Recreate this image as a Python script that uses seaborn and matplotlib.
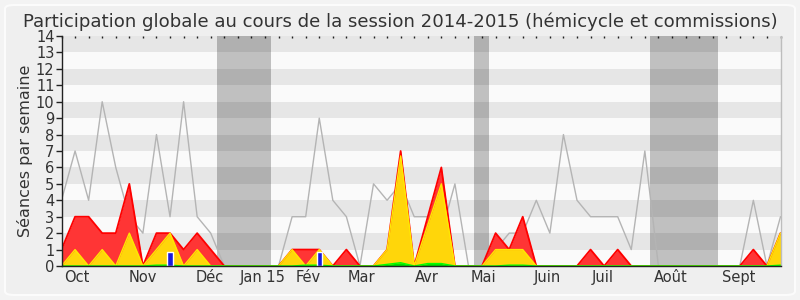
import numpy as np
import pandas as pd
import matplotlib
matplotlib.use("Agg")
import matplotlib.pyplot as plt
import seaborn as sns
from matplotlib.patches import FancyBboxPatch

# ---- data (weekly values, week index 0 = end of Sept 2014) ----
weeks = list(range(54))
presence_mediane = [4, 7, 4, 10, 6, 3, 2, 8, 3, 10, 3, 2, 0, 0, 0, 0, 0, 3, 3, 9,
                    4, 3, 0, 5, 4, 5, 3, 3, 2, 5, 0, 0, 1, 2, 2, 4, 2, 8, 4, 3,
                    3, 3, 1, 7, 0, 0, 0, 0, 0, 0, 0, 4, 0, 3]
presences = [1, 3, 3, 2, 2, 5, 0, 2, 2, 1, 2, 1, 0, 0, 0, 0, 0, 1, 1, 1,
             0, 1, 0, 0, 1, 7, 0, 3, 6, 0, 0, 0, 2, 1, 3, 0, 0, 0, 0, 1,
             0, 1, 0, 0, 0, 0, 0, 0, 0, 0, 0, 1, 0, 2]
hemicycle = [0, 1, 0, 1, 0, 2, 0, 1, 2, 0, 1, 0, 0, 0, 0, 0, 0, 1, 0, 1,
             0, 0, 0, 0, 1, 6.7, 0, 2.5, 5, 0, 0, 0, 1, 1, 1, 0, 0, 0, 0, 0,
             0, 0, 0, 0, 0, 0, 0, 0, 0, 0, 0, 0, 0, 2]
interventions = [0, 0, 0, 0, 0, 0, 0, 0.05, 0.05, 0, 0, 0, 0, 0, 0, 0, 0, 0, 0.05, 0.05,
                 0, 0, 0, 0, 0.1, 0.2, 0, 0.15, 0.15, 0, 0, 0, 0, 0.05, 0.05, 0, 0, 0, 0, 0,
                 0, 0, 0, 0, 0, 0, 0, 0, 0, 0, 0, 0, 0, 0.05]
question_weeks = [8, 19]
question_values = [0.88, 0.88]
vacances = [(11.45, 15.45), (30.4, 31.5), (43.4, 48.4)]
month_labels = ["Oct", "Nov", "Déc", "Jan 15", "Fév", "Mar", "Avr", "Mai", "Juin", "Juil", "Août", "Sept"]
month_pos = [1.1, 6.02, 10.9, 14.8, 18.2, 22.1, 26.9, 31.1, 35.8, 39.9, 44.9, 49.9]

df = pd.DataFrame({"semaine": weeks, "mediane": presence_mediane,
                   "presences": presences, "hemicycle": hemicycle,
                   "interventions": interventions})

sns.set_style("white")
plt.rcParams['font.family'] = ['DejaVu Sans']

fig = plt.figure(figsize=(8, 3), dpi=100, facecolor="#f3f3f3")
fig.patches.append(FancyBboxPatch((5 / 800, 5 / 300), 790 / 800, 290 / 300,
                                  boxstyle="round,pad=0,rounding_size=0.012",
                                  transform=fig.transFigure, facecolor="#efefef",
                                  edgecolor="#fbfbfb", linewidth=1.5, zorder=-10))
ax = fig.add_axes([61.5 / 800, 34 / 300, 719 / 800, 230 / 300])
ax.set_facecolor("#fafafa")

# background bands
for k in range(1, 14, 2):
    ax.axhspan(k, k + 1, color="#e6e6e6", lw=0, zorder=0)
for a, b in vacances:
    ax.axvspan(a, b, color="black", alpha=0.233, lw=0, zorder=1)

sns.lineplot(data=df, x="semaine", y="mediane", ax=ax, color="#b4b4b4", lw=1, zorder=2)
ax.fill_between(df["semaine"], 0, df["presences"], color="#ff3535", lw=0, zorder=3)
sns.lineplot(data=df, x="semaine", y="presences", ax=ax, color="#ff0000", lw=1.3, zorder=3.1)
ax.fill_between(df["semaine"], 0, df["hemicycle"], color="#ffd60a", lw=0, zorder=4)
sns.lineplot(data=df, x="semaine", y="hemicycle", ax=ax, color="#ffe800", lw=1, zorder=4.1)
ax.fill_between(df["semaine"], 0, df["interventions"], color="#00e000", lw=0, zorder=5)
sns.lineplot(data=df, x="semaine", y="interventions", ax=ax, color="#00ff00", lw=1, zorder=5.1)
ax.bar(question_weeks, question_values, width=0.4, color="#1a1adc", zorder=6)

ax.set_xlim(0, 53)
ax.set_ylim(0, 14)
ax.set_yticks(range(15))
ax.set_xticks(weeks)
ax.set_xticklabels([])
ax.set_xticks(month_pos, minor=True)
ax.set_xticklabels(month_labels, minor=True)
ax.tick_params(axis="x", which="minor", length=0, pad=3, labelsize=10.5, labelcolor="#333333")
ax.tick_params(axis="x", which="major", direction="out", length=4, width=1, color="#222222")
ax.tick_params(axis="y", direction="out", length=4, width=1, color="#222222", pad=1,
               labelsize=10.5, labelcolor="#333333", left=True)
ax.set_xlabel("")
ax.set_ylabel("Séances par semaine", fontsize=11.5, color="#333333", labelpad=2)

top = ax.secondary_xaxis("top")
top.set_xticks(weeks)
top.set_xticklabels([])
top.tick_params(direction="in", length=1.5, width=1, color="#222222")
top.spines["top"].set_visible(False)

for s in ["left", "bottom"]:
    ax.spines[s].set_color("#222222")
    ax.spines[s].set_linewidth(1)
    ax.spines[s].set_zorder(10)
for s in ["top", "right"]:
    ax.spines[s].set_visible(False)
ax.plot([1, 1], [0, 1], transform=ax.transAxes, color="#bdbdbd", lw=1, clip_on=False, zorder=10)

fig.text(0.5, 0.91, "Participation globale au cours de la session 2014-2015 (hémicycle et commissions)",
         ha="center", va="baseline", fontsize=13.1, color="#333333")

fig.savefig("out.png", dpi=100, facecolor=fig.get_facecolor())
